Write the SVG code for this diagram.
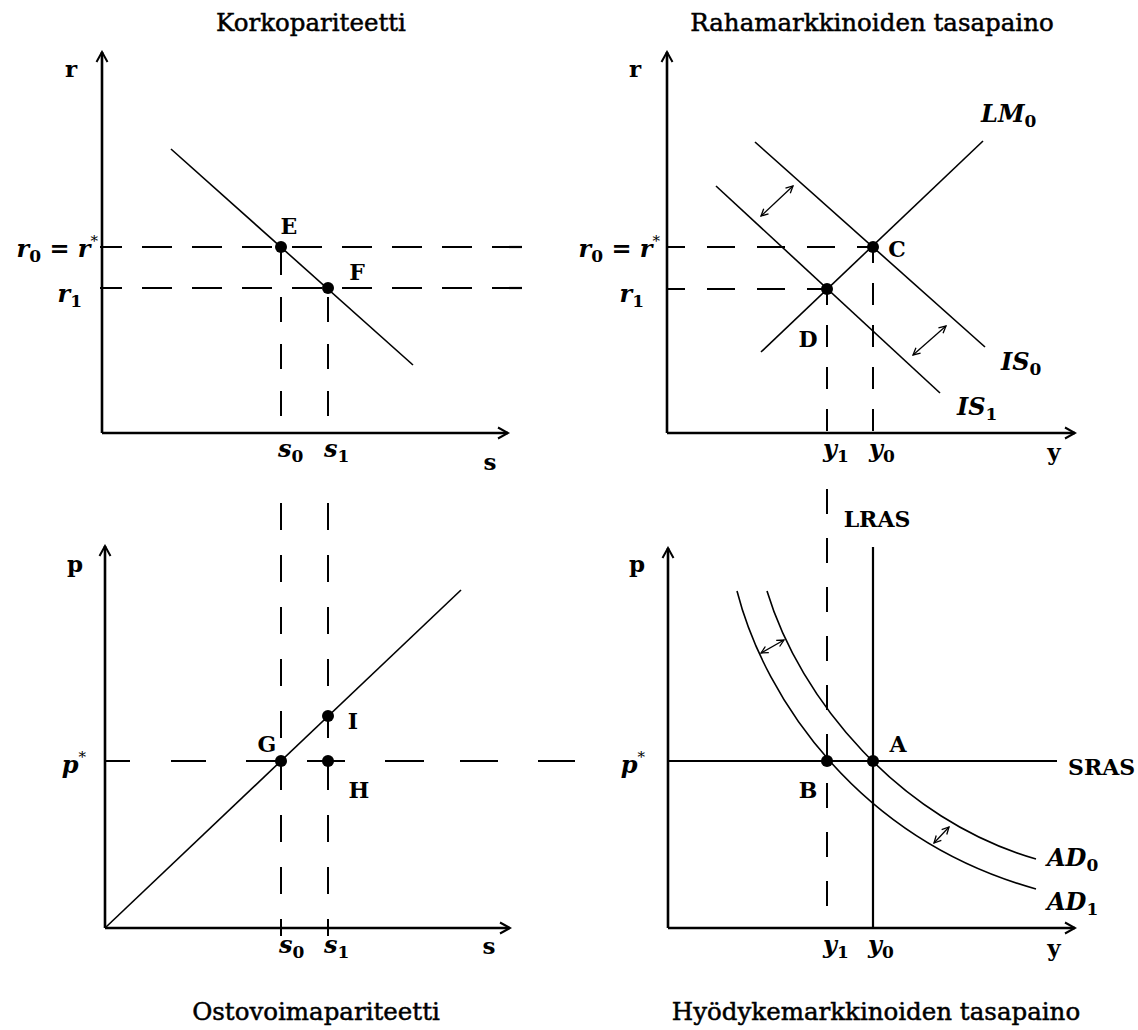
<svg xmlns="http://www.w3.org/2000/svg" width="1138" height="1030" viewBox="0 0 1138 1030">
<defs>
<style>
.ax{stroke:#000;stroke-width:2.6;fill:none;marker-end:url(#ax)}
.cv{stroke:#000;stroke-width:1.6;fill:none}
.sl{stroke:#000;stroke-width:2.2;fill:none}
.dh{stroke:#000;stroke-width:2.2;fill:none}
.dv{stroke:#000;stroke-width:2;fill:none}
.dbl{stroke:#000;stroke-width:1.3;fill:none;marker-start:url(#sa);marker-end:url(#sa)}
.title{font-family:"DejaVu Serif","Liberation Serif",serif;font-size:24.5px;fill:#000;stroke:#000;stroke-width:0.5;text-anchor:middle}
.lb{font-family:"DejaVu Serif","Liberation Serif",serif;font-size:22px;font-weight:bold;fill:#000}
.axl{font-size:23px}
.m{font-family:"DejaVu Serif","Liberation Serif",serif;font-size:24px;font-weight:bold;font-style:italic;fill:#000}
.sub{font-size:17px;font-style:normal}
.sup{font-size:15px;font-style:normal;font-weight:normal}
.dot{fill:#000}
</style>
<marker id="ax" viewBox="-12 -7 14 14" refX="0" refY="0" markerWidth="14" markerHeight="14" markerUnits="userSpaceOnUse" orient="auto"><path d="M-10,-5.5 L0,0 L-10,5.5" fill="none" stroke="#000" stroke-width="2"/></marker>
<marker id="sa" viewBox="-9 -5 10 10" refX="0" refY="0" markerWidth="10" markerHeight="10" markerUnits="userSpaceOnUse" orient="auto-start-reverse"><path d="M-7,-3.5 L0,0 L-7,3.5" fill="none" stroke="#000" stroke-width="1.3"/></marker>
</defs>
<rect width="1138" height="1030" fill="#fff"/>

<!-- Titles -->
<text class="title" x="311" y="31">Korkopariteetti</text>
<text class="title" x="872" y="31">Rahamarkkinoiden tasapaino</text>
<text class="title" x="316" y="1020">Ostovoimapariteetti</text>
<text class="title" x="876" y="1020">Hyödykemarkkinoiden tasapaino</text>

<!-- Connectors (dashed projection lines) -->
<g id="connectors">
  <line class="dh" x1="100" y1="247" x2="526" y2="247" stroke-dasharray="30 20" stroke-dashoffset="8"/>
  <line class="dh" x1="100" y1="288" x2="526" y2="288" stroke-dasharray="30 20" stroke-dashoffset="8"/>
  <line class="dv" x1="281" y1="247" x2="281" y2="433" stroke-dasharray="25 22" stroke-dashoffset="-3"/>
  <line class="dv" x1="328" y1="288" x2="328" y2="433" stroke-dasharray="25 22" stroke-dashoffset="-9"/>
  <line class="dh" x1="667" y1="247" x2="873" y2="247" stroke-dasharray="28 22" stroke-dashoffset="10"/>
  <line class="dh" x1="667" y1="289" x2="827" y2="289" stroke-dasharray="28 22" stroke-dashoffset="10"/>
  <line class="dv" x1="873" y1="247" x2="873" y2="433" stroke-dasharray="22 20" stroke-dashoffset="6"/>
  <line class="dv" x1="827" y1="289" x2="827" y2="433" stroke-dasharray="22 20" stroke-dashoffset="6"/>
  <line class="dv" x1="281" y1="503" x2="281" y2="936" stroke-dasharray="27 25"/>
  <line class="dv" x1="328" y1="503" x2="328" y2="936" stroke-dasharray="27 25"/>
  <path class="dh" d="M105,761H130M171,761H206M246,761H286M307,761H345M385,761H424M460,761H498M538,761H575"/>
  <line class="dv" x1="827" y1="489" x2="827" y2="930" stroke-dasharray="25 24"/>
</g>

<!-- Panel: Korkopariteetti -->
<g id="panel-korkopariteetti">
  <path class="ax" d="M102,433V52"/>
  <path class="ax" d="M102,433H508"/>
  <line class="cv" x1="171" y1="149" x2="413" y2="365"/>
  <text class="lb axl" x="71" y="77" text-anchor="middle">r</text>
  <text class="lb axl" x="490" y="470" text-anchor="middle">s</text>
  <text class="m" x="98" y="257" text-anchor="end">r<tspan class="sub" dy="5">0</tspan><tspan dy="-5"> = r</tspan><tspan class="sup" dy="-11">*</tspan></text>
  <text class="m" x="82" y="302" text-anchor="end">r<tspan class="sub" dy="5">1</tspan></text>
  <text class="m" x="278" y="457">s<tspan class="sub" dy="5">0</tspan></text>
  <text class="m" x="324" y="457">s<tspan class="sub" dy="5">1</tspan></text>
  <g id="E"><circle class="dot" cx="281" cy="247" r="6"/><text class="lb" x="289" y="234" text-anchor="middle">E</text></g>
  <g id="F"><circle class="dot" cx="328" cy="288" r="6"/><text class="lb" x="357" y="280" text-anchor="middle">F</text></g>
</g>

<!-- Panel: Rahamarkkinoiden tasapaino -->
<g id="panel-rahamarkkinat">
  <path class="ax" d="M667,433V52"/>
  <path class="ax" d="M667,433H1075"/>
  <line class="cv" id="LM0" x1="761" y1="352" x2="983" y2="141"/>
  <line class="cv" id="IS0" x1="755" y1="142" x2="985" y2="347"/>
  <line class="cv" id="IS1" x1="716" y1="186" x2="940" y2="393"/>
  <line class="dbl" x1="761" y1="216" x2="793" y2="186"/>
  <line class="dbl" x1="913" y1="355" x2="946" y2="326"/>
  <text class="lb axl" x="635" y="77" text-anchor="middle">r</text>
  <text class="lb axl" x="1054" y="460" text-anchor="middle">y</text>
  <text class="m" x="660" y="257" text-anchor="end">r<tspan class="sub" dy="5">0</tspan><tspan dy="-5"> = r</tspan><tspan class="sup" dy="-11">*</tspan></text>
  <text class="m" x="644" y="302" text-anchor="end">r<tspan class="sub" dy="5">1</tspan></text>
  <text class="m" x="823" y="457">y<tspan class="sub" dy="5">1</tspan></text>
  <text class="m" x="869" y="457">y<tspan class="sub" dy="5">0</tspan></text>
  <text class="m" x="981" y="122">LM<tspan class="sub" dy="5">0</tspan></text>
  <text class="m" x="1001" y="370">IS<tspan class="sub" dy="5">0</tspan></text>
  <text class="m" x="957" y="415">IS<tspan class="sub" dy="5">1</tspan></text>
  <g id="C"><circle class="dot" cx="873" cy="247" r="6"/><text class="lb" x="897" y="257" text-anchor="middle">C</text></g>
  <g id="D"><circle class="dot" cx="827" cy="289" r="6"/><text class="lb" x="808" y="347" text-anchor="middle">D</text></g>
</g>

<!-- Panel: Ostovoimapariteetti -->
<g id="panel-ostovoimapariteetti">
  <path class="ax" d="M105,928V546"/>
  <path class="ax" d="M105,928H510"/>
  <line class="cv" x1="105" y1="928" x2="461" y2="590"/>
  <text class="lb axl" x="75" y="572" text-anchor="middle">p</text>
  <text class="lb axl" x="489" y="954" text-anchor="middle">s</text>
  <text class="m" x="86" y="773" text-anchor="end">p<tspan class="sup" dy="-11">*</tspan></text>
  <text class="m" x="279" y="953">s<tspan class="sub" dy="5">0</tspan></text>
  <text class="m" x="324" y="953">s<tspan class="sub" dy="5">1</tspan></text>
  <g id="G"><circle class="dot" cx="281" cy="761" r="6"/><text class="lb" x="267" y="752" text-anchor="middle">G</text></g>
  <g id="I"><circle class="dot" cx="328" cy="716" r="6"/><text class="lb" x="353" y="729" text-anchor="middle">I</text></g>
  <g id="H"><circle class="dot" cx="328" cy="761" r="6"/><text class="lb" x="359" y="798" text-anchor="middle">H</text></g>
</g>

<!-- Panel: Hyodykemarkkinoiden tasapaino -->
<g id="panel-hyodykemarkkinat">
  <path class="ax" d="M668,928V548"/>
  <path class="ax" d="M668,928H1075"/>
  <line class="sl" id="LRAS" x1="873" y1="547" x2="873" y2="928"/>
  <line class="sl" id="SRAS" x1="668" y1="761" x2="1057" y2="761"/>
  <path class="cv" id="AD0" d="M767,591 C800,700 900,820 1036,859"/>
  <path class="cv" id="AD1" d="M737,591 C765,700 860,840 1036,889"/>
  <line class="dbl" x1="761" y1="653" x2="784" y2="640"/>
  <line class="dbl" x1="934" y1="843" x2="949" y2="827"/>
  <text class="lb axl" x="637" y="572" text-anchor="middle">p</text>
  <text class="lb axl" x="1054" y="956" text-anchor="middle">y</text>
  <text class="lb" x="877" y="527" text-anchor="middle">LRAS</text>
  <text class="lb" x="1068" y="775">SRAS</text>
  <text class="m" x="645" y="773" text-anchor="end">p<tspan class="sup" dy="-11">*</tspan></text>
  <text class="m" x="823" y="953">y<tspan class="sub" dy="5">1</tspan></text>
  <text class="m" x="868" y="953">y<tspan class="sub" dy="5">0</tspan></text>
  <text class="m" x="1047" y="866">AD<tspan class="sub" dy="5">0</tspan></text>
  <text class="m" x="1047" y="910">AD<tspan class="sub" dy="5">1</tspan></text>
  <g id="A"><circle class="dot" cx="873" cy="761" r="6"/><text class="lb" x="898" y="752" text-anchor="middle">A</text></g>
  <g id="B"><circle class="dot" cx="827" cy="761" r="6"/><text class="lb" x="808" y="798" text-anchor="middle">B</text></g>
</g>
</svg>
